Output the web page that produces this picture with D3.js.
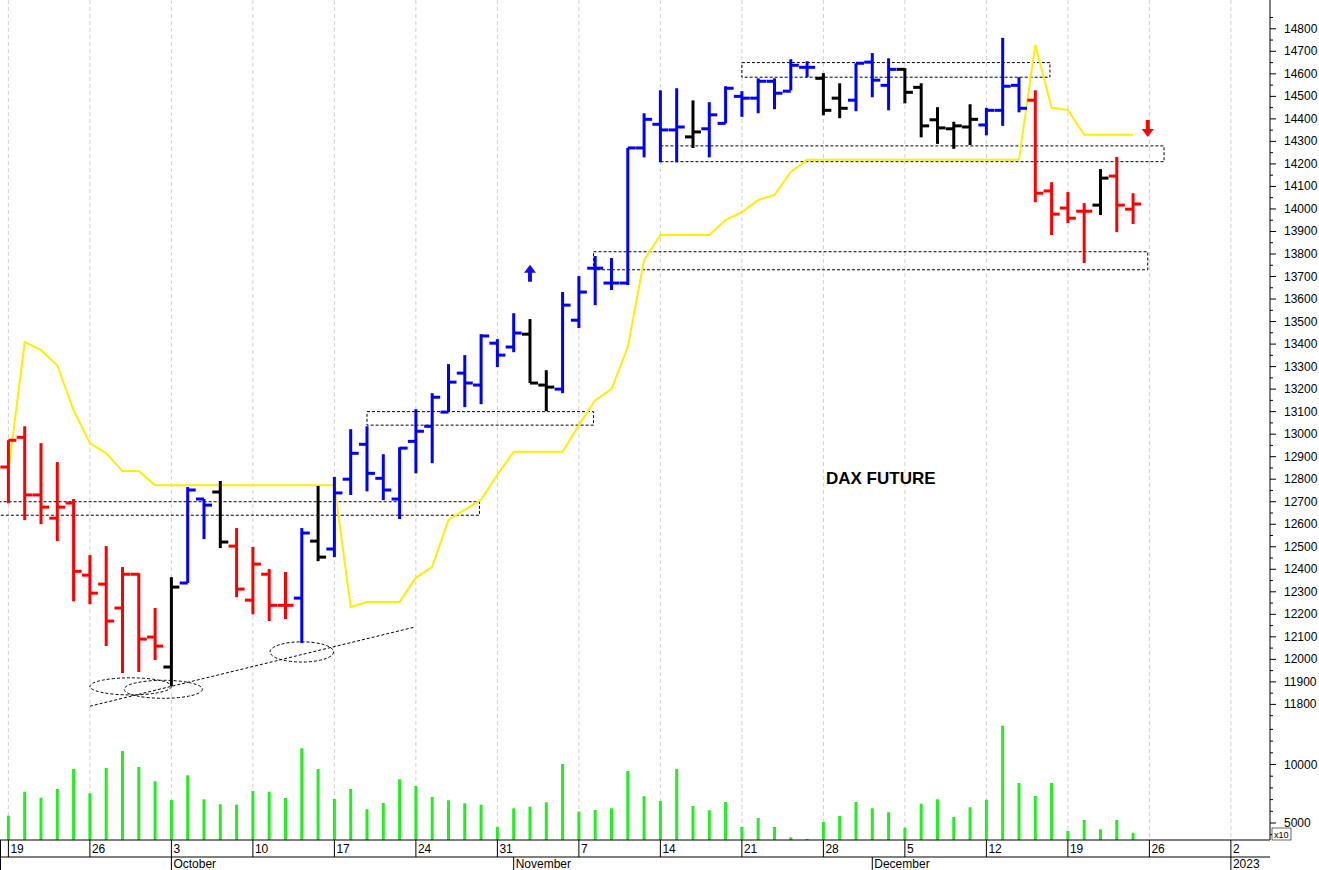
<!DOCTYPE html>
<html>
<head>
<meta charset="utf-8">
<script src="https://cdn.jsdelivr.net/npm/d3@7"></script>
<style>
  body { margin: 0; background: #fff; }
  svg { display: block; font-family: "Liberation Sans", Arial, sans-serif; }
</style>
</head>
<body>
<svg id="chart" width="1319" height="870"></svg>
<script>
// Daily OHLC, DAX future, 19 Sep - 23 Dec 2022 (one row per trading day)
var opens  = [12854,12986,12730,12627,12694,12374,12334,12228,12378,12099,
              11966,12339,12712,12743,12503,12263,12378,12240,12272,12525,
              12490,12800,12955,12804,12712,12968,13035,13098,13271,13218,
              13404,13387,13444,13218,13200,13506,13737,13671,13671,14271,
              14376,14351,14320,14356,14380,14500,14492,14567,14523,14629,
              14580,14492,14483,14652,14549,14620,14540,14396,14356,14364,
              14373,14438,14549,14483,14080,14004,13990,14017,14146,13999];
var highs  = [12973,13035,12960,12876,12712,12463,12503,12410,12383,12228,
              12365,12765,12712,12792,12583,12499,12401,12388,12583,12770,
              12810,13022,13035,12911,12942,13111,13182,13311,13351,13444,
              13422,13537,13511,13284,13631,13702,13791,13782,14271,14425,
              14527,14536,14482,14474,14545,14523,14580,14580,14665,14656,
              14603,14558,14647,14692,14669,14625,14558,14452,14387,14465,
              14449,14760,14585,14527,14119,14075,14026,14177,14231,14070];
var lows   = [12693,12618,12600,12525,12258,12245,12059,11939,11944,11997,
              11882,12339,12534,12494,12276,12200,12170,12179,12072,12436,
              12454,12730,12746,12707,12623,12826,12871,13098,13120,13133,
              13298,13364,13227,13102,13182,13471,13573,13640,13662,14229,
              14207,14207,14271,14229,14380,14409,14425,14443,14527,14585,
              14416,14403,14434,14496,14438,14469,14318,14289,14267,14284,
              14327,14369,14429,14030,13884,13937,13760,13973,13897,13933];
var closes = [12973,12730,12676,12676,12391,12294,12170,12378,12090,12059,
              12321,12752,12685,12521,12312,12423,12240,12240,12561,12454,
              12739,12915,12826,12752,12938,13013,13164,13231,13227,13436,
              13351,13449,13227,13209,13573,13631,13737,13671,14271,14398,
              14351,14364,14342,14418,14536,14492,14567,14514,14638,14629,
              14438,14447,14647,14572,14620,14518,14369,14360,14369,14398,
              14438,14545,14447,14070,13977,13959,13990,14137,14017,14022];
// bar colour state: r = red, b = blue, k = black
var states = "rrrrrrrrrrkbbkrrrrbkbbbbbbbbbbbbkkbbbbbbbbkbbbbbbbkkbbbkkkkkbbbrrrrkrr";
// yellow stop line
var stopLine = [12836,13409,13373,13306,13106,12960,12915,12836,12836,12773,
                12773,12773,12773,12773,12773,12773,12773,12773,12773,12773,
                12773,12233,12255,12255,12255,12362,12411,12620,12664,12709,
                12820,12922,12922,12922,12922,13040,13151,13200,13387,13773,
                13884,13884,13884,13884,13951,13986,14040,14062,14164,14218,
                14218,14218,14218,14218,14218,14218,14218,14218,14218,14218,
                14218,14218,14218,14729,14449,14440,14329,14329,14329,14329];
// volume (panel shows x10)
var volumes = [5624,7676,7163,7906,9615,7535,9700,11154,9786,8563,
               6966,9077,7025,6598,6564,7735,7676,7137,11385,9615,
               7051,7906,6170,6709,8735,8162,7222,6940,6684,6564,
               4658,6256,6393,6769,10043,5966,6111,6256,9444,7282,
               6880,9615,6453,6085,6795,4658,5427,4658,3778,3632,
               5085,5598,6795,6256,5914,4600,6650,7025,5513,6342,
               6991,13316,8419,7308,8419,4316,5256,4462,5256,4171];

// annotation zones: [fromIndex, toIndex, low, high]
var zones = [[-0.6, 28.9, 12640, 12700], [22, 35.9, 13040, 13100],
             [35.9, 69.9, 13730, 13810], [40, 70.9, 14210, 14280],
             [45, 63.9, 14585, 14650]];
// ellipses: [centerIndex, centerValue, radiusIndex, radiusValue]
var ellipses = [[7.5, 11880, 2.5, 38], [9.5, 11867, 2.4, 40], [18, 12033, 1.95, 45]];
var trendLine = [[5.0, 11792], [24.9, 12143]];
var priceTicks = d3.range(11800, 14801, 100);

// weekly tick labels (Mondays) with their trading-day index
var weekTicks = [[0, "19"], [5, "26"], [10, "3"], [15, "10"], [20, "17"], [25, "24"],
                 [30, "31"], [35, "7"], [40, "14"], [45, "21"], [50, "28"], [55, "5"],
                 [60, "12"], [65, "19"], [70, "26"], [75, "2"]];
var monthTicks = [[10, "October"], [31, "November"], [53, "December"], [75, "2023"]];

var svg = d3.select("#chart");
var plotRight = 1270, axisY = 840;
var colors = {r: "#ff0000", b: "#0000ff", k: "#000000"};

var x = d3.scaleLinear().domain([-0.515, 77.4]).range([0, plotRight]);
var y = d3.scaleLinear().domain([11800, 14800]).range([704.4, 28.8]);
var yv = d3.scaleLinear().domain([0, 10000]).range([881.5, 764.5]);

// vertical grid
svg.append("g").selectAll("line").data(weekTicks).join("line")
    .attr("x1", function (d) { return x(d[0]); }).attr("x2", function (d) { return x(d[0]); })
    .attr("y1", 0).attr("y2", axisY)
    .attr("stroke", "#d0d0d0").attr("stroke-dasharray", "4,3");

// zones
svg.append("g").selectAll("rect").data(zones).join("rect")
    .attr("x", function (d) { return x(d[0]); })
    .attr("width", function (d) { return x(d[1]) - x(d[0]); })
    .attr("y", function (d) { return y(d[3]); })
    .attr("height", function (d) { return y(d[2]) - y(d[3]); })
    .attr("fill", "none").attr("stroke", "#000").attr("stroke-dasharray", "3,2");

var ux = x(1) - x(0), uy = y(0) - y(1);
svg.append("g").selectAll("ellipse").data(ellipses).join("ellipse")
    .attr("cx", function (d) { return x(d[0]); }).attr("cy", function (d) { return y(d[1]); })
    .attr("rx", function (d) { return d[2] * ux; }).attr("ry", function (d) { return d[3] * uy; })
    .attr("fill", "none").attr("stroke", "#000").attr("stroke-dasharray", "3,2");
svg.append("line")
    .attr("x1", x(trendLine[0][0])).attr("y1", y(trendLine[0][1]))
    .attr("x2", x(trendLine[1][0])).attr("y2", y(trendLine[1][1]))
    .attr("stroke", "#000").attr("stroke-dasharray", "3,2");

// yellow line
svg.append("path").datum(stopLine)
    .attr("d", d3.line().x(function (d, i) { return x(i); }).y(function (d) { return y(d); }))
    .attr("fill", "none").attr("stroke", "#ffee00").attr("stroke-width", 2);

// OHLC bars
var bars = svg.append("g").selectAll("g").data(opens).join("g")
    .attr("stroke", function (d, i) { return colors[states[i]]; })
    .attr("stroke-width", 3);
bars.append("line")
    .attr("x1", function (d, i) { return x(i); }).attr("x2", function (d, i) { return x(i); })
    .attr("y1", function (d, i) { return y(highs[i]); }).attr("y2", function (d, i) { return y(lows[i]); });
bars.append("line")
    .attr("x1", function (d, i) { return x(i) - 8; }).attr("x2", function (d, i) { return x(i); })
    .attr("y1", function (d) { return y(d); }).attr("y2", function (d) { return y(d); });
bars.append("line")
    .attr("x1", function (d, i) { return x(i); }).attr("x2", function (d, i) { return x(i) + 8; })
    .attr("y1", function (d, i) { return y(closes[i]); }).attr("y2", function (d, i) { return y(closes[i]); });

// signal arrows
function arrow(i, v, dir, color) {
    var cx = x(i), cy = y(v), s = dir;
    svg.append("path")
        .attr("d", "M" + (cx - 6) + "," + (cy - s * 1) + "L" + cx + "," + (cy - s * 9) +
            "L" + (cx + 6) + "," + (cy - s * 1) + "L" + (cx + 2) + "," + (cy - s * 1) +
            "L" + (cx + 2) + "," + (cy + s * 8) + "L" + (cx - 2) + "," + (cy + s * 8) +
            "L" + (cx - 2) + "," + (cy - s * 1) + "Z")
        .attr("fill", color);
}
arrow(32, 13712, 1, "#1010ee");
arrow(69.9, 14360, -1, "#ff0000");

svg.append("text").attr("x", 826).attr("y", 484)
    .attr("font-size", 17).attr("font-weight", "bold").text("DAX FUTURE");

// volume
svg.append("g").selectAll("line").data(volumes).join("line")
    .attr("x1", function (d, i) { return x(i); }).attr("x2", function (d, i) { return x(i); })
    .attr("y1", axisY).attr("y2", function (d) { return Math.min(axisY, yv(d)); })
    .attr("stroke", "#22ee22").attr("stroke-width", 3);

// right price axis
var ra = svg.append("g").attr("font-size", 12);
ra.append("line").attr("x1", plotRight).attr("x2", plotRight).attr("y1", 0).attr("y2", axisY).attr("stroke", "#000");
ra.selectAll("line.mj").data(d3.range(11750, 14851, 50)).join("line")
    .attr("x1", plotRight).attr("x2", function (d) { return d % 100 ? plotRight + 3 : plotRight + 6; })
    .attr("y1", function (d) { return y(d); }).attr("y2", function (d) { return y(d); })
    .attr("stroke", "#000");
ra.selectAll("text.p").data(priceTicks).join("text")
    .attr("x", 1284).attr("y", function (d) { return y(d) + 4; }).text(function (d) { return d; });
ra.selectAll("line.vt").data(d3.range(4000, 13001, 1000)).join("line")
    .attr("x1", plotRight).attr("x2", function (d) { return d % 5000 ? plotRight + 3 : plotRight + 6; })
    .attr("y1", function (d) { return yv(d); }).attr("y2", function (d) { return yv(d); })
    .attr("stroke", "#000");
ra.selectAll("text.v").data([5000, 10000]).join("text")
    .attr("x", 1284).attr("y", function (d) { return yv(d) + 4; }).text(function (d) { return d; });
ra.append("rect").attr("x", 1272).attr("y", 828).attr("width", 19).attr("height", 12)
    .attr("fill", "#fff").attr("stroke", "#000").attr("stroke-width", 0.6);
ra.append("text").attr("x", 1274).attr("y", 838).attr("font-size", 9).text("x10");

// bottom date axis
var ba = svg.append("g").attr("font-size", 12);
[axisY, 857].forEach(function (yy) {
    ba.append("line").attr("x1", 0).attr("x2", plotRight).attr("y1", yy).attr("y2", yy).attr("stroke", "#000");
});
ba.append("line").attr("x1", 0.5).attr("x2", 0.5).attr("y1", axisY).attr("y2", 870).attr("stroke", "#000");
ba.selectAll("line.w").data(weekTicks).join("line")
    .attr("x1", function (d) { return x(d[0]); }).attr("x2", function (d) { return x(d[0]); })
    .attr("y1", axisY).attr("y2", 857).attr("stroke", "#000");
ba.selectAll("text.w").data(weekTicks).join("text")
    .attr("x", function (d) { return x(d[0]) + 2; }).attr("y", 853).text(function (d) { return d[1]; });
ba.selectAll("line.m").data(monthTicks).join("line")
    .attr("x1", function (d) { return x(d[0]); }).attr("x2", function (d) { return x(d[0]); })
    .attr("y1", 857).attr("y2", 870).attr("stroke", "#000");
ba.selectAll("text.m").data(monthTicks).join("text")
    .attr("x", function (d) { return x(d[0]) + 2; }).attr("y", 868).text(function (d) { return d[1]; });
</script>
</body>
</html>
